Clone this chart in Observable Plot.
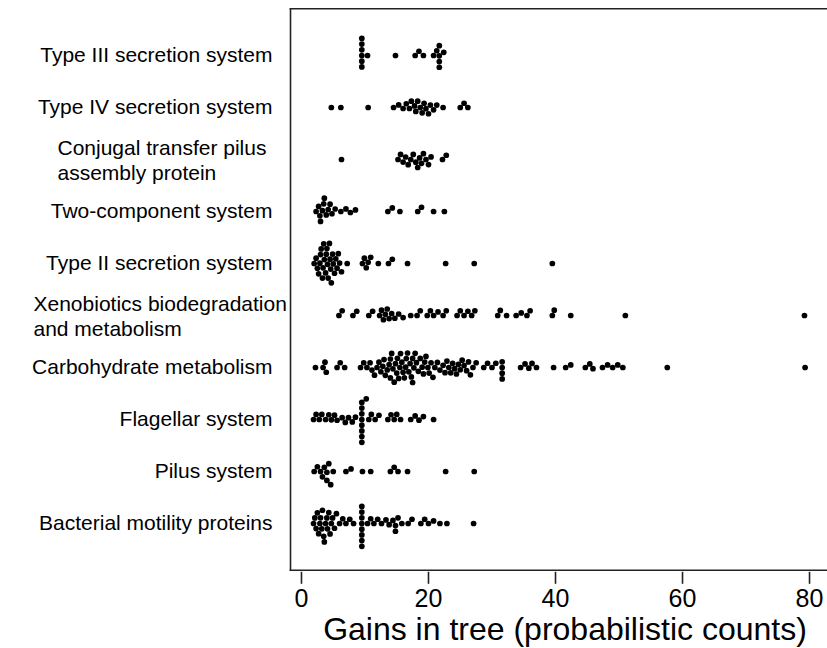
<!DOCTYPE html>
<html>
<head>
<meta charset="utf-8">
<script src="https://cdn.jsdelivr.net/npm/d3@7"></script>
<script src="https://cdn.jsdelivr.net/npm/@observablehq/plot@0.6"></script>
<style>
  html, body { margin: 0; padding: 0; background: #fff; overflow: hidden; }
  #chart svg { display: block; }
</style>
</head>
<body>
<div id="chart"></div>
<script>
const categories = [
  "Type III secretion system",
  "Type IV secretion system",
  "Conjugal transfer pilus\nassembly protein",
  "Two-component system",
  "Type II secretion system",
  "Xenobiotics biodegradation\nand metabolism",
  "Carbohydrate metabolism",
  "Flagellar system",
  "Pilus system",
  "Bacterial motility proteins"
];

const typeIII = [9.5, 9.5, 9.5, 9.5, 9.5, 9.5, 10.4, 14.8, 17.9, 18.5, 19.2, 20.8, 21.3, 21.7, 21.7, 21.7, 21.7, 22.4];
const typeIV = [4.7, 6.2, 10.5, 14.5, 15.3, 16.0, 16.5, 17.0, 17.3, 17.8, 18.0, 18.3, 18.7, 19.0, 19.3, 19.6, 20.0, 20.3, 20.8, 21.3, 22.3, 25.0, 25.6, 26.2];
const conjugal = [6.3, 15.2, 15.6, 16.0, 16.4, 16.8, 17.2, 17.6, 18.0, 18.3, 18.6, 18.9, 19.2, 19.6, 20.0, 20.4, 22.2, 22.8];
const twoComponent = [2.3, 2.7, 2.9, 3.0, 3.3, 3.5, 3.6, 3.9, 4.2, 4.5, 4.8, 5.3, 6.2, 7.0, 7.7, 8.5, 13.6, 14.3, 15.5, 18.3, 18.9, 20.8, 22.5];
const typeII = [2.0, 2.3, 2.5, 2.7, 2.9, 3.0, 3.1, 3.3, 3.4, 3.5, 3.6, 3.8, 3.9, 4.0, 4.1, 4.2, 4.4, 4.5, 4.6, 4.7, 4.9, 5.0, 5.2, 5.4, 5.6, 5.8, 6.0, 6.3, 7.2, 9.6, 9.9, 10.2, 10.5, 10.9, 12.1, 13.7, 14.3, 16.7, 22.7, 27.2, 39.5];
const xenobiotics = [5.9, 6.4, 8.1, 8.7, 10.6, 11.2, 12.3, 12.6, 12.9, 13.2, 13.5, 13.8, 14.2, 14.7, 15.3, 16.0, 17.2, 18.2, 18.7, 19.8, 20.3, 20.8, 21.5, 22.3, 22.8, 24.5, 25.0, 25.6, 26.2, 26.8, 27.3, 30.9, 31.3, 32.3, 33.8, 34.6, 35.5, 36.0, 39.5, 39.8, 42.4, 51.0, 79.2];
const carbohydrate = [2.2, 3.4, 3.7, 3.9, 5.6, 6.1, 6.8,
  9.3, 9.8, 10.3, 10.8, 11.1, 11.5, 11.9, 12.2, 12.5, 12.8, 13.0, 13.2, 13.5, 13.8, 14.0, 14.0, 14.2, 14.4, 14.6, 14.8,
  15.0, 15.1, 15.3, 15.5, 15.6, 15.8, 16.0, 16.2, 16.4, 16.5, 16.7, 16.9, 17.1, 17.3, 17.5, 17.5, 17.7, 17.9, 18.1, 18.4,
  18.7, 19.0, 19.2, 19.4, 19.6, 19.9, 20.1, 20.4, 20.7, 21.0, 21.4, 21.8, 22.3, 22.6, 22.9, 23.2, 23.5, 23.8, 24.1, 24.4,
  24.7, 25.0, 25.3, 25.6, 26.0, 26.3, 26.6, 27.0, 27.5, 28.7, 29.3, 30.0, 30.6, 31.6, 31.6, 31.6, 31.6,
  34.5, 35.2, 35.8, 36.3, 37.0, 39.7, 41.6, 42.4, 44.7, 45.4, 45.9, 47.4, 48.2, 49.0, 49.8, 50.6, 57.6, 79.3];
const flagellar = [1.9, 2.3, 2.8, 3.2, 3.8, 4.3, 4.7, 5.2, 5.6, 6.4, 6.9, 7.4, 8.0, 8.5, 9.5, 9.5, 9.5, 9.5, 9.5, 9.5, 9.5, 9.5, 10.2, 10.6, 11.0, 11.6, 12.2, 13.6, 14.1, 14.6, 15.0, 15.6, 17.2, 17.9, 18.5, 19.2, 20.8];
const pilus = [2.0, 2.5, 3.0, 3.3, 3.6, 4.0, 4.0, 4.3, 4.6, 5.0, 7.0, 7.8, 9.6, 10.9, 14.0, 14.6, 15.2, 16.7, 22.7, 27.2];
const motility = [1.9, 2.1, 2.3, 2.5, 2.7, 2.9, 3.0, 3.2, 3.3, 3.5, 3.6, 3.8, 4.0, 4.1, 4.3, 4.5, 4.7, 4.9, 5.2, 5.5, 6.0, 6.5, 7.0, 7.6, 8.2, 9.5, 9.5, 9.5, 9.5, 9.5, 9.5, 9.5, 9.5, 10.4, 10.9, 11.4, 12.0, 12.6, 13.3, 13.8, 14.4, 14.8, 14.8, 15.2, 15.8, 16.8, 17.4, 18.8, 19.4, 20.0, 20.8, 21.8, 22.9, 27.1];

const xTicks = [0, 20, 40, 60, 80];
const xTitle = "Gains in tree (probabilistic counts)";

const series = [typeIII, typeIV, conjugal, twoComponent, typeII, xenobiotics, carbohydrate, flagellar, pilus, motility];
const rows = categories.flatMap((c, i) => series[i].map(v => ({category: c, gains: v})));

const singleLine = categories.filter(c => !c.includes("\n"));
const font = "'Liberation Sans', Arial, Helvetica, sans-serif";

// facet layout: outer padding of the fy band scale
const H = 648, MT = 8, MB = 78, PO = 0.4;
const step = (H - MT - MB) / (categories.length + 2 * PO);
const outerPad = PO * step;

const frameStyle = {facet: "super", stroke: "#222", strokeWidth: 1.6, insetTop: -outerPad, insetBottom: -outerPad};

const chart = Plot.plot({
  width: 827,
  height: H,
  marginLeft: 290,
  marginRight: 0,
  marginTop: MT,
  marginBottom: MB,
  style: {fontFamily: font, background: "#fff", color: "#000", overflow: "visible"},
  x: {domain: [-1.73, 82.83]},
  fy: {domain: categories, paddingInner: 0, paddingOuter: PO, axis: null, label: null},
  marks: [
    Plot.frame({...frameStyle, anchor: "left"}),
    Plot.frame({...frameStyle, anchor: "top"}),
    Plot.frame({...frameStyle, anchor: "bottom"}),
    Plot.dot(rows, Plot.dodgeY({anchor: "middle", padding: 0}, {x: "gains", fy: "category", r: 2.85, fill: "#000", stroke: "none"})),
    Plot.text(singleLine, {fy: d => d, text: d => d, frameAnchor: "left", textAnchor: "end", dx: -18, fontSize: 21, fill: "#000"}),
    Plot.text([categories[2]], {fy: d => d, text: d => d, frameAnchor: "left", textAnchor: "start", dx: -233, fontSize: 21, lineHeight: 1.2, fill: "#000"}),
    Plot.text([categories[5]], {fy: d => d, text: d => d, frameAnchor: "left", textAnchor: "start", dx: -257, fontSize: 21, lineHeight: 1.2, fill: "#000"}),
    Plot.axisX({anchor: "bottom", facetAnchor: "bottom", ticks: xTicks, tickSize: 12, tickPadding: 5, fontSize: 25, label: null, stroke: "#222", strokeWidth: 1.6, fill: "#000", dy: outerPad + 2}),
    Plot.text([xTitle], {facet: "super", frameAnchor: "bottom", text: d => d, dx: 6, dy: outerPad + 70, lineAnchor: "bottom", fontSize: 32, fill: "#000"})
  ]
});
document.getElementById("chart").appendChild(chart);
</script>
</body>
</html>
